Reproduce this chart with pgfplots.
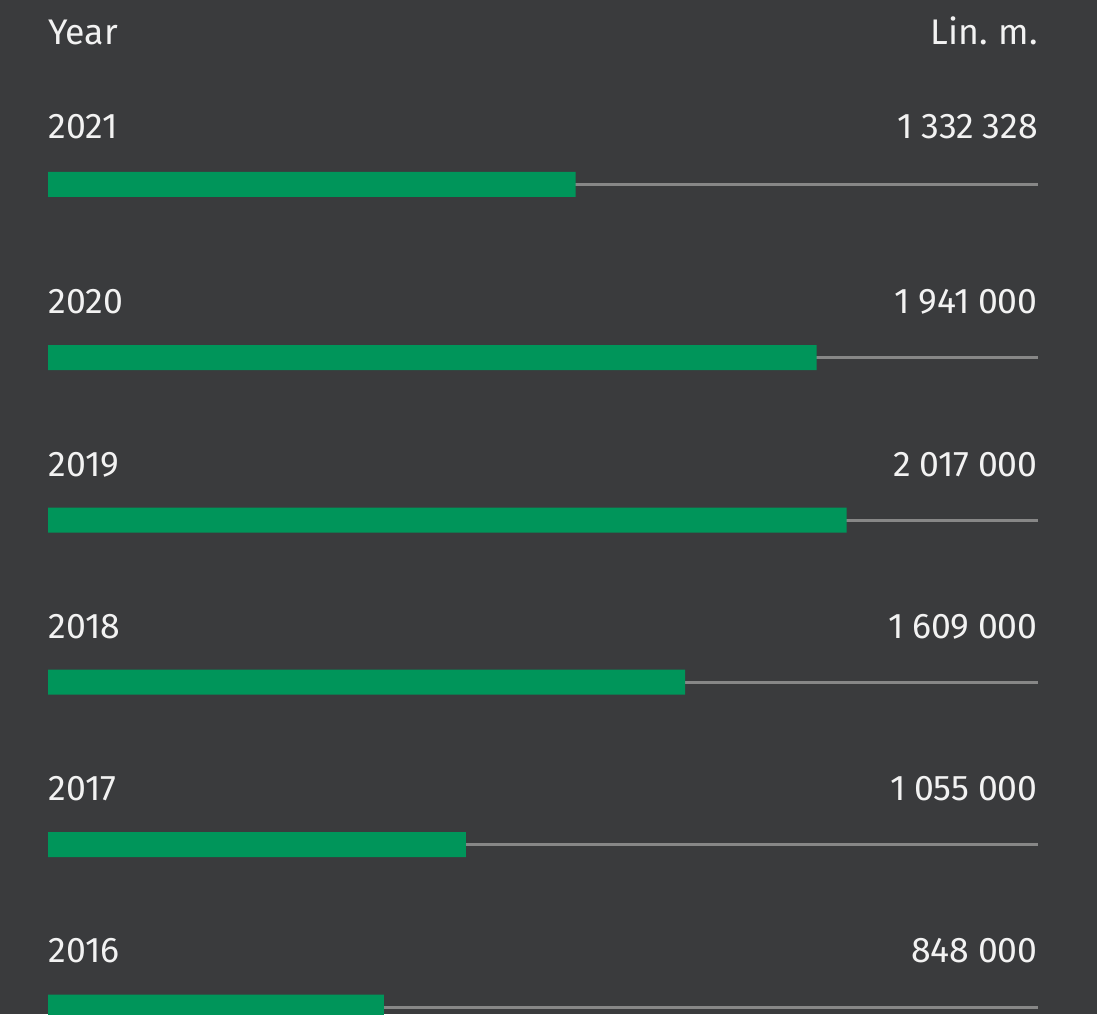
\documentclass[border=0pt]{standalone}
\usepackage{fontspec}
\setmainfont{Fira Sans}
\usepackage{pgfplots}
\pgfplotsset{compat=1.18}
\definecolor{bgc}{HTML}{3A3B3D}
\definecolor{barc}{HTML}{00955A}
\definecolor{trackc}{HTML}{878787}
\definecolor{txtc}{HTML}{F2F2F2}
\newcommand{\ts}{\hspace{0.24em}}
\begin{document}
\begin{tikzpicture}
\useasboundingbox (0,0) rectangle (548.5pt,507pt);
\fill[bgc] (0,0) rectangle (548.5pt,507pt);
\begin{axis}[
  at={(24pt,0pt)}, anchor=south west,
  scale only axis, width=495pt, height=507pt,
  xmin=0, xmax=2500000, ymin=0, ymax=1014,
  hide axis,
  clip=true,
]
% tracks
\addplot[trackc, line width=1.5pt] coordinates {(0,829.5) (2500000,829.5)};
\addplot[trackc, line width=1.5pt] coordinates {(0,656.5) (2500000,656.5)};
\addplot[trackc, line width=1.5pt] coordinates {(0,494) (2500000,494)};
\addplot[trackc, line width=1.5pt] coordinates {(0,332) (2500000,332)};
\addplot[trackc, line width=1.5pt] coordinates {(0,169.5) (2500000,169.5)};
\addplot[trackc, line width=1.5pt] coordinates {(0,7) (2500000,7)};
% bars
\addplot[xbar, fill=barc, draw=none, bar width=12.5pt] coordinates {
  (1332328,829.5) (1941000,656.5) (2017000,494) (1609000,332) (1055000,169.5) (848000,7)};
\end{axis}
\begin{scope}[every node/.style={text=txtc, font=\fontsize{17.8}{21}\selectfont, inner sep=0pt}]
\node[anchor=base west] at (24pt,484.5pt) {Year};
\node[anchor=base east] at (519pt,484.5pt) {Lin.\hspace{-0.06em} m.};
\node[anchor=base west] at (24pt,437.5pt) {2021};
\node[anchor=base east] at (519pt,437.5pt) {1\ts332\ts328};
\node[anchor=base west] at (24pt,350pt) {2020};
\node[anchor=base east] at (519pt,350pt) {1\ts941\ts000};
\node[anchor=base west] at (24pt,269pt) {2019};
\node[anchor=base east] at (519pt,269pt) {2\ts017\ts000};
\node[anchor=base west] at (24pt,188pt) {2018};
\node[anchor=base east] at (519pt,188pt) {1\ts609\ts000};
\node[anchor=base west] at (24pt,107pt) {2017};
\node[anchor=base east] at (519pt,107pt) {1\ts055\ts000};
\node[anchor=base west] at (24pt,26pt) {2016};
\node[anchor=base east] at (519pt,26pt) {848\ts000};
\end{scope}
\end{tikzpicture}
\end{document}
